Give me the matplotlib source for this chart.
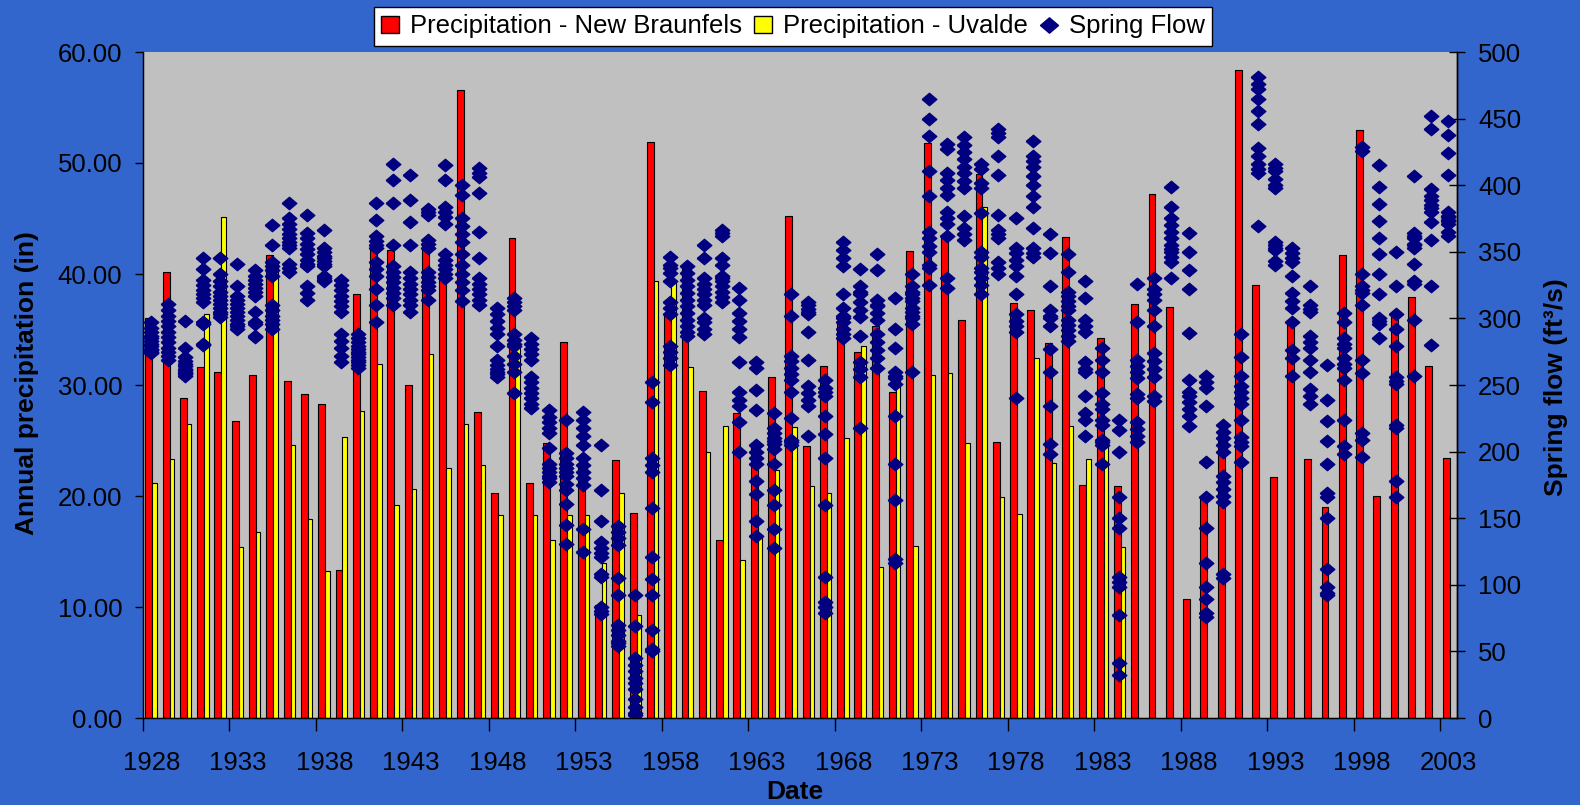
import numpy as np
import matplotlib
matplotlib.use('Agg')
import matplotlib.pyplot as plt
from matplotlib.patches import Patch
from matplotlib.lines import Line2D

plt.rcParams['font.family'] = ['Liberation Sans', 'DejaVu Sans']

# annual precipitation (in), 1928-2003
years = list(range(1928, 2004))
new_braunfels = [36.0, 40.2, 28.8, 31.6, 31.2, 26.8, 30.9, 41.7, 30.4, 29.2,
                 28.3, 13.3, 38.2, 42.4, 42.2, 30.0, 42.6, 39.8, 56.6, 27.6,
                 20.3, 43.2, 21.2, 24.8, 33.9, 23.0, 10.2, 23.2, 18.5, 51.9,
                 36.5, 40.6, 29.5, 16.0, 27.5, 24.5, 30.7, 45.2, 24.5, 31.7,
                 35.5, 33.0, 35.3, 29.4, 42.1, 51.8, 43.5, 35.9, 49.0, 24.9,
                 37.4, 36.8, 33.8, 43.3, 21.0, 34.2, 20.9, 37.3, 47.2, 37.0,
                 10.7, 19.9, 25.5, 58.4, 39.0, 21.7, 35.5, 23.3, 19.0, 41.7,
                 53.0, 20.0, 36.5, 37.9, 31.7, 23.4]
# Uvalde record stops after 1984
uvalde = [21.2, 23.3, 26.5, 36.4, 45.1, 15.4, 16.8, 41.1, 24.6, 17.9,
          13.2, 25.3, 27.7, 31.9, 19.2, 20.6, 32.8, 22.5, 26.5, 22.8,
          18.3, 33.5, 18.3, 16.0, 18.3, 18.3, 14.0, 20.3, 9.3, 39.4,
          39.2, 31.6, 24.0, 26.3, 14.2, 16.5, 22.3, 26.2, 20.9, 20.3,
          25.2, 33.5, 13.6, 31.2, 15.5, 30.9, 31.1, 24.8, 46.0, 19.9,
          18.4, 32.4, 23.0, 26.3, 23.3, 24.8, 15.4]

# monthly spring flow (ft3/s), one list per year
spring_flow = [
    [297, 293, 290, 287, 285, 283, 281, 279, 277, 276, 275, 274],
    [311, 306, 302, 298, 294, 290, 286, 282, 278, 275, 272, 269],
    [298, 278, 271, 268, 266, 264, 262, 261, 260, 259, 258, 257],
    [345, 337, 329, 325, 321, 318, 315, 312, 297, 296, 281, 280],
    [345, 333, 328, 324, 320, 317, 314, 311, 308, 305, 303, 301],
    [341, 324, 317, 314, 311, 308, 305, 302, 299, 296, 294, 292],
    [336, 332, 329, 326, 323, 320, 317, 305, 297, 296, 287, 286],
    [370, 355, 342, 339, 336, 332, 310, 306, 302, 299, 296, 292],
    [387, 375, 371, 367, 363, 360, 357, 355, 353, 341, 338, 335],
    [378, 364, 360, 356, 352, 348, 344, 341, 339, 324, 319, 314],
    [366, 353, 350, 347, 345, 343, 341, 339, 332, 330, 329, 328],
    [329, 325, 321, 317, 313, 309, 305, 288, 283, 278, 272, 267],
    [288, 285, 282, 279, 277, 275, 273, 271, 269, 267, 265, 263],
    [387, 374, 362, 358, 355, 353, 342, 337, 332, 322, 310, 297],
    [416, 404, 387, 355, 339, 335, 331, 327, 323, 319, 315, 310],
    [408, 389, 372, 355, 335, 330, 326, 322, 318, 314, 310, 305],
    [382, 380, 378, 359, 356, 353, 335, 331, 327, 324, 321, 314],
    [415, 404, 384, 380, 376, 371, 348, 344, 340, 337, 333, 330],
    [400, 393, 375, 369, 363, 357, 348, 340, 333, 327, 321, 313],
    [413, 409, 406, 394, 365, 345, 330, 326, 322, 318, 314, 310],
    [308, 303, 298, 293, 288, 279, 269, 265, 262, 260, 258, 256],
    [315, 312, 309, 306, 288, 284, 281, 279, 272, 266, 260, 244],
    [285, 281, 277, 273, 269, 256, 252, 248, 244, 240, 236, 233],
    [231, 226, 222, 218, 214, 203, 191, 188, 185, 182, 180, 177],
    [224, 199, 195, 191, 188, 185, 182, 176, 171, 161, 145, 131],
    [230, 224, 218, 212, 205, 195, 190, 185, 180, 175, 142, 125],
    [205, 171, 148, 132, 128, 124, 121, 108, 106, 83, 80, 78],
    [144, 140, 135, 130, 105, 92, 70, 66, 62, 58, 56, 54],
    [92, 69, 45, 40, 35, 30, 26, 22, 14, 8, 4, 2],
    [252, 237, 195, 190, 185, 158, 121, 104, 92, 66, 52, 50],
    [346, 340, 334, 328, 312, 308, 303, 279, 275, 270, 265, 338],
    [339, 334, 329, 324, 319, 314, 309, 304, 299, 294, 290, 287],
    [355, 345, 326, 322, 318, 314, 310, 297, 292, 288, 330, 300],
    [366, 364, 362, 345, 332, 328, 324, 320, 316, 312, 330, 340],
    [323, 314, 304, 298, 292, 286, 267, 245, 239, 234, 222, 200],
    [267, 263, 246, 231, 205, 200, 195, 191, 178, 168, 148, 137],
    [229, 214, 210, 206, 202, 191, 171, 160, 142, 128, 208, 218],
    [318, 302, 272, 268, 263, 258, 254, 245, 225, 209, 205, 207],
    [312, 307, 303, 290, 269, 249, 244, 239, 234, 212, 310, 305],
    [254, 248, 242, 227, 213, 195, 160, 106, 87, 83, 79, 245],
    [357, 351, 345, 339, 318, 308, 302, 297, 292, 288, 285, 300],
    [337, 324, 318, 312, 306, 301, 287, 267, 262, 256, 218, 320],
    [348, 336, 314, 309, 304, 299, 288, 282, 276, 270, 263, 310],
    [315, 292, 278, 260, 255, 251, 227, 191, 164, 119, 116, 257],
    [333, 324, 318, 313, 308, 302, 296, 260, 320, 315, 305, 300],
    [465, 450, 437, 411, 392, 365, 354, 338, 325, 360, 350, 340],
    [431, 427, 409, 404, 398, 393, 380, 375, 371, 362, 330, 323],
    [436, 425, 420, 414, 409, 403, 398, 377, 368, 363, 359, 430],
    [416, 412, 402, 398, 379, 350, 346, 338, 335, 330, 325, 318],
    [442, 439, 436, 422, 408, 378, 366, 363, 360, 342, 338, 333],
    [375, 353, 349, 344, 339, 332, 318, 303, 298, 294, 290, 240],
    [433, 422, 414, 407, 400, 392, 384, 368, 353, 349, 346, 418],
    [363, 349, 324, 306, 300, 294, 277, 260, 234, 206, 198, 302],
    [348, 335, 317, 313, 309, 306, 299, 295, 291, 287, 283, 320],
    [328, 315, 299, 294, 290, 267, 262, 260, 242, 229, 224, 212],
    [278, 269, 260, 244, 236, 224, 220, 209, 207, 205, 191, 232],
    [224, 216, 200, 166, 150, 143, 106, 102, 98, 77, 41, 32],
    [326, 297, 269, 264, 260, 243, 240, 222, 217, 212, 207, 255],
    [330, 322, 314, 306, 294, 274, 268, 262, 256, 242, 238, 318],
    [399, 384, 370, 365, 360, 355, 350, 346, 342, 330, 375, 352],
    [364, 350, 336, 322, 289, 254, 242, 237, 232, 227, 219, 245],
    [257, 248, 234, 192, 166, 143, 116, 98, 89, 79, 76, 252],
    [220, 215, 210, 205, 200, 182, 177, 172, 167, 162, 108, 105],
    [288, 271, 257, 249, 245, 240, 236, 224, 211, 207, 204, 192],
    [481, 476, 472, 465, 456, 446, 428, 422, 416, 412, 409, 369],
    [416, 413, 411, 405, 400, 398, 357, 355, 353, 351, 343, 340],
    [353, 349, 345, 342, 332, 319, 313, 308, 297, 276, 270, 257],
    [324, 310, 307, 305, 287, 282, 278, 269, 260, 247, 242, 236],
    [265, 239, 223, 208, 191, 169, 166, 150, 112, 98, 94, 92],
    [304, 297, 285, 281, 278, 270, 266, 263, 254, 224, 204, 198],
    [429, 426, 333, 324, 321, 319, 310, 269, 259, 214, 209, 196],
    [415, 399, 386, 373, 360, 348, 333, 318, 300, 296, 285, 298],
    [350, 324, 303, 292, 279, 256, 251, 220, 218, 178, 166, 253],
    [407, 364, 360, 356, 353, 341, 326, 299, 257, 362, 355, 328],
    [452, 442, 397, 389, 385, 380, 372, 359, 324, 280, 392, 383],
    [448, 438, 424, 408, 380, 377, 374, 371, 362, 376, 373, 365],
]

blue_bg = '#3366CC'
# slightly flattened diamond, like the Excel marker
diamond = [(-1, 0), (0, 0.85), (1, 0), (0, -0.85), (-1, 0)]

fig = plt.figure(figsize=(15.8, 8.05), dpi=100, facecolor=blue_bg)
ax = fig.add_axes([142.7/1580, 87/805, 1314.6/1580, 666/805])
ax.set_facecolor('#C0C0C0')

x = np.arange(len(years))
ax.bar(x - 0.15, new_braunfels, width=0.40, color='#FF0000', edgecolor='black', linewidth=0.8)
ax.bar(x[:len(uvalde)] + 0.18, uvalde, width=0.26, color='#FFFF00', edgecolor='black', linewidth=0.8)

ax.set_xlim(-0.5, len(years) - 0.5)
ax.set_ylim(0, 60)
ax.set_yticks(np.arange(0, 61, 10))
ax.set_yticklabels(['%.2f' % v for v in np.arange(0, 61, 10)])

# tick marks between categories every 5 years, labels on the category
ax.set_xticks(np.arange(-0.5, len(years), 5))
ax.set_xticklabels([])
ax.set_xticks(np.arange(0, len(years), 5), minor=True)
ax.set_xticklabels([str(years[i]) for i in range(0, len(years), 5)], minor=True)
ax.tick_params(axis='x', which='major', direction='out', length=9.5, width=1)
ax.tick_params(axis='x', which='minor', length=0, pad=24, labelsize=18.5)
ax.tick_params(axis='y', direction='out', length=5.8, width=1, pad=9, labelsize=18.5)
for s in ['left', 'bottom', 'right']:
    ax.spines[s].set_linewidth(1)
ax.spines['top'].set_visible(False)

ax2 = ax.twinx()
fx = []
fy = []
for i, vals in enumerate(spring_flow):
    fx += [i - 0.03] * len(vals)
    fy += vals
ax2.plot(fx, fy, linestyle='none', marker=diamond, color='#000080', markersize=10.5)
ax2.set_ylim(0, 500)
ax2.set_yticks(np.arange(0, 501, 50))
ax2.tick_params(axis='y', direction='inout', length=12, width=1, pad=9, labelsize=18.5)
ax2.spines['top'].set_visible(False)
ax2.spines['right'].set_linewidth(1)

fig.text(27.5/1580, 1 - 383/805, 'Annual precipitation (in)', rotation=90,
         ha='center', va='center', fontsize=19, fontweight='bold')
fig.text(1556/1580, 1 - 387/805, 'Spring flow (ft³/s)', rotation=90,
         ha='center', va='center', fontsize=19, fontweight='bold')
fig.text(795/1580, 1/805, 'Date', ha='center', va='bottom', fontsize=19, fontweight='bold')

handles = [Patch(facecolor='#FF0000', edgecolor='black'),
           Patch(facecolor='#FFFF00', edgecolor='black'),
           Line2D([], [], marker=diamond, color='#000080', linestyle='none', markersize=13)]
labels = ['Precipitation - New Braunfels', 'Precipitation - Uvalde', 'Spring Flow']
leg = fig.legend(handles, labels, loc='center', bbox_to_anchor=(793/1580, 1 - 26.5/805),
                 ncol=3, fontsize=18.5, frameon=True, fancybox=False, framealpha=1,
                 edgecolor='black', handlelength=0.7, handleheight=0.7,
                 handletextpad=0.4, columnspacing=0.5, borderpad=0.3, borderaxespad=0)
leg.get_frame().set_linewidth(1)

fig.savefig('out.png', dpi=100, facecolor=blue_bg)
